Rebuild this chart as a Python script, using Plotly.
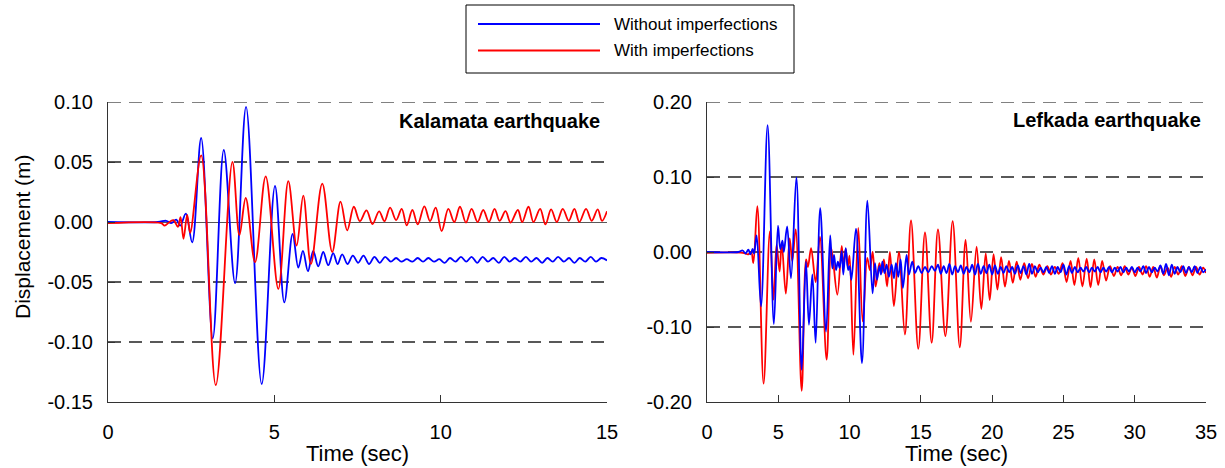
import plotly.graph_objects as go

# ---------------- Kalamata earthquake (left) ----------------
kal_t_without = [0.0, 1.5, 1.75, 1.9, 2.05, 2.17, 2.34, 2.53, 2.80, 3.15, 3.48, 3.82, 4.15, 4.62,
                 5.02, 5.30, 5.55, 5.72, 5.86, 6.01, 6.17, 6.32, 6.47, 6.62, 6.77, 6.90,
                 7.04, 7.20, 7.36, 7.52, 7.68, 7.85, 8.01, 8.17, 8.33, 8.50, 8.66, 8.82, 8.98,
                 9.15, 9.31, 9.47, 9.63, 9.80, 9.96, 10.12, 10.28, 10.45, 10.61, 10.77, 10.93,
                 11.10, 11.26, 11.42, 11.58, 11.75, 11.91, 12.07, 12.23, 12.40, 12.56, 12.72,
                 12.88, 13.05, 13.21, 13.37, 13.53, 13.70, 13.86, 14.02, 14.18, 14.35, 14.51,
                 14.67, 14.83, 15.0]
kal_d_without = [0.0, 0.0, 0.001, -0.001, 0.002, -0.003, 0.007, -0.017, 0.070, -0.097, 0.060, -0.051,
                 0.096, -0.135, 0.030, -0.067, -0.010, -0.038, -0.024, -0.041, -0.024, -0.037,
                 -0.025, -0.036, -0.026, -0.035,
                 -0.027, -0.035, -0.028, -0.034, -0.028, -0.035, -0.029, -0.034, -0.029, -0.033,
                 -0.030, -0.033, -0.031, -0.033, -0.030, -0.033, -0.030, -0.033, -0.031, -0.034,
                 -0.030, -0.033, -0.029, -0.033, -0.029, -0.034, -0.029, -0.033, -0.030, -0.034,
                 -0.029, -0.033, -0.030, -0.033, -0.029, -0.033, -0.030, -0.034, -0.030, -0.033,
                 -0.029, -0.033, -0.030, -0.034, -0.030, -0.033, -0.029, -0.033, -0.030, -0.032]

kal_t_with = [0.0, 1.6, 1.70, 1.85, 1.97, 2.10, 2.18, 2.27, 2.38, 2.47, 2.80, 3.24, 3.74, 3.95,
              4.14, 4.42, 4.74, 5.12, 5.42, 5.67, 5.87, 6.10, 6.44, 6.74, 6.99, 7.19, 7.39,
              7.57, 7.77, 7.95, 8.15, 8.31, 8.48, 8.66, 8.83, 8.98, 9.15, 9.31, 9.51, 9.68,
              9.85, 10.03, 10.23, 10.41, 10.58, 10.76, 10.93, 11.11, 11.28, 11.45, 11.62,
              11.77, 11.95, 12.10, 12.32, 12.45, 12.64, 12.79, 12.99, 13.15, 13.32, 13.49,
              13.67, 13.85, 14.02, 14.17, 14.37, 14.54, 14.72, 14.85, 15.0]
kal_d_with = [-0.001, -0.001, -0.003, 0.000, 0.0015, -0.004, 0.004, -0.014, 0.006, -0.009, 0.0555,
              -0.136, 0.050, -0.011, 0.020, -0.0335, 0.038, -0.0557, 0.034, -0.0196, 0.022,
              -0.035, 0.032, -0.025, 0.017, -0.007, 0.0127, 0.0007, 0.0097, -0.0017, 0.0089,
              0.0007, 0.012, 0.0016, 0.011, -0.0028, 0.010, -0.002, 0.013, 0.0008, 0.012,
              -0.0075, 0.011, 0.0, 0.0127, -0.0005, 0.011, 0.0, 0.010, 0.0, 0.011, 0.001,
              0.009, -0.0005, 0.010, 0.0, 0.0127, 0.0, 0.011, -0.002, 0.0105, 0.0, 0.011,
              0.001, 0.011, 0.0, 0.011, 0.001, 0.0105, 0.001, 0.009]

# ---------------- Lefkada earthquake (right) ----------------
lef_t_without = [0.0, 2.2, 2.5, 2.7, 2.9, 3.05, 3.2, 3.3, 3.48, 3.79, 4.25, 4.69, 4.98, 5.14, 5.29,
                 5.39, 5.62, 5.89, 6.27, 6.64, 6.94, 7.15, 7.39, 7.62, 7.94, 8.35, 8.64, 8.79,
                 8.91, 9.05, 9.18, 9.30, 9.45, 9.56, 9.73, 9.90, 10.00, 10.13, 10.45, 10.87,
                 11.25, 11.61, 11.78, 11.92, 12.09, 12.20, 12.30, 12.45, 12.60, 12.76, 12.95,
                 13.11, 13.25, 13.42, 13.58, 13.74, 14.0, 14.16, 14.40, 14.59, 14.82, 15.05,
                 15.29, 15.52, 15.76, 15.99,
                 16.2, 16.4, 16.6, 16.8, 17.0, 17.2, 17.4, 17.6, 17.8, 18.0, 18.2, 18.4, 18.6,
                 18.8, 19.0, 19.2, 19.4, 19.6, 19.8, 20.0, 20.2, 20.4, 20.6, 20.8, 21.0, 21.2,
                 21.4, 21.6, 21.8, 22.0, 22.2, 22.4, 22.6, 22.8, 23.0, 23.2, 23.4, 23.6, 23.8,
                 24.0, 24.2, 24.4, 24.6, 24.8, 25.0, 25.2, 25.4, 25.6, 25.8, 26.0, 26.2, 26.4,
                 26.6, 26.8, 27.0, 27.2, 27.4, 27.6, 27.8, 28.0, 28.2, 28.4, 28.6, 28.8, 29.0,
                 29.2, 29.4, 29.6, 29.8, 30.0, 30.2, 30.4, 30.6, 30.8, 31.0, 31.2, 31.4, 31.6,
                 31.8, 32.0, 32.2, 32.4, 32.6, 32.8, 33.0, 33.2, 33.4, 33.6, 33.8, 34.0, 34.2,
                 34.4, 34.6, 34.8, 35.0]
lef_d_without = [0.0, 0.0, 0.002, -0.002, 0.003, -0.003, 0.004, -0.002, 0.022, -0.0725, 0.169,
                 -0.096, 0.035, 0.004, 0.015, 0.0, 0.034, -0.035, 0.0995, -0.157, -0.013, -0.097,
                 -0.030, -0.121, 0.0586, -0.106, 0.022, -0.022, -0.004, -0.024, -0.013, -0.021,
                 0.001, -0.030, 0.005, -0.024, -0.019, -0.037, 0.031, -0.148, 0.0686, -0.055,
                 -0.015, -0.037, -0.019, -0.030, -0.013, -0.028, -0.017, -0.033, -0.017, -0.035,
                 -0.015, -0.033, -0.010, -0.048, -0.004, -0.030, -0.013, -0.028, -0.019, -0.028,
                 -0.020, -0.027, -0.019, -0.025,
                 -0.017, -0.029, -0.019, -0.028, -0.016, -0.030, -0.019, -0.027, -0.018, -0.029,
                 -0.020, -0.027, -0.017, -0.030, -0.016, -0.029, -0.019, -0.028, -0.017, -0.030,
                 -0.018, -0.029, -0.020, -0.028, -0.019, -0.027, -0.020, -0.029, -0.018, -0.028,
                 -0.019, -0.030, -0.016, -0.029, -0.019, -0.027, -0.021, -0.027, -0.020, -0.028,
                 -0.019, -0.029, -0.020, -0.027, -0.017, -0.030, -0.019, -0.028, -0.020, -0.027,
                 -0.021, -0.026, -0.020, -0.027, -0.021, -0.026, -0.020, -0.027, -0.021, -0.026,
                 -0.020, -0.027, -0.021, -0.026, -0.020, -0.027, -0.021, -0.026, -0.020, -0.027,
                 -0.021, -0.026, -0.019, -0.028, -0.020, -0.027, -0.021, -0.026, -0.018, -0.029,
                 -0.016, -0.031, -0.017, -0.029, -0.020, -0.027, -0.019, -0.028, -0.020, -0.027,
                 -0.019, -0.028, -0.020, -0.027, -0.023]

lef_t_with = [0.0, 2.5, 2.9, 3.1, 3.25, 3.53, 3.97, 4.41, 4.67, 4.88, 5.09, 5.24, 5.53, 5.80, 5.98,
              6.22, 6.64, 6.95, 7.08, 7.30, 7.62, 7.92, 8.39, 8.72, 9.14, 9.45, 9.58, 9.73, 9.88,
              10.0, 10.27, 10.61, 10.92, 11.24, 11.42, 11.62, 11.83, 12.09, 12.25, 12.41, 12.63,
              12.83, 13.11, 13.46, 13.88, 14.31, 14.82, 15.29, 15.76, 16.20, 16.72, 17.23, 17.73,
              18.14, 18.51, 18.91, 19.24, 19.55, 19.83, 20.10, 20.37, 20.63, 20.90, 21.18, 21.45,
              21.72, 21.98, 22.25, 22.52, 22.79, 23.05, 23.31, 23.59, 23.87, 24.13, 24.40, 24.67,
              24.94, 25.22, 25.50, 25.77, 26.04, 26.33, 26.63, 26.90, 27.16, 27.44, 27.72, 27.99,
              28.27, 28.54, 28.80, 29.05, 29.30, 29.55, 29.80, 30.05, 30.30, 30.55, 30.80, 31.05,
              31.30, 31.55, 31.80, 32.05, 32.30, 32.55, 32.80, 33.05, 33.30, 33.55, 33.80, 34.05,
              34.30, 34.55, 34.80, 35.0]
lef_d_with = [-0.001, -0.001, -0.003, 0.0, -0.0147, 0.061, -0.1756, 0.0275, -0.0636, 0.0097, -0.026,
              0.012, -0.0556, 0.018, -0.012, 0.030, -0.185, -0.010, -0.020, 0.005, -0.040, 0.020,
              -0.1436, 0.005, -0.057, 0.008, -0.020, 0.004, -0.020, -0.005, -0.137, 0.032, -0.0925,
              -0.008, -0.024, 0.0, -0.046, -0.015, -0.028, -0.010, -0.046, 0.0, -0.072, 0.0, -0.110,
              0.042, -0.129, 0.026, -0.121, 0.030, -0.112, 0.041, -0.127, 0.016, -0.093, 0.007,
              -0.076, -0.002, -0.064, -0.003, -0.050, -0.007, -0.046, -0.012, -0.041, -0.013,
              -0.037, -0.015, -0.035, -0.016, -0.033, -0.017, -0.030, -0.019, -0.030, -0.020,
              -0.029, -0.015, -0.040, -0.012, -0.044, -0.008, -0.046, -0.009, -0.047, -0.010,
              -0.044, -0.012, -0.038, -0.019, -0.032, -0.020, -0.031, -0.019, -0.030, -0.021,
              -0.032, -0.020, -0.030, -0.019, -0.033, -0.020, -0.034, -0.019, -0.031, -0.021,
              -0.033, -0.020, -0.030, -0.019, -0.032, -0.020, -0.031, -0.020, -0.030, -0.021,
              -0.028]

series_names = ["Without imperfections", "With imperfections"]
panel_titles = ["Kalamata earthquake", "Lefkada earthquake"]

left_xticks = [0, 5, 10, 15]
left_yticks = [0.10, 0.05, 0.00, -0.05, -0.10, -0.15]
left_yticklabels = ["0.10", "0.05", "0.00", "-0.05", "-0.10", "-0.15"]
right_xticks = [0, 5, 10, 15, 20, 25, 30, 35]
right_yticks = [0.20, 0.10, 0.00, -0.10, -0.20]
right_yticklabels = ["0.20", "0.10", "0.00", "-0.10", "-0.20"]

BLUE = "#0000FF"
RED = "#FF0000"
W, H = 1225, 468
FONT = "Liberation Sans, Arial, sans-serif"
GRID = "#585858"
GRIDDASH = "13px,8px"
LW = 1.8

fig = go.Figure()
fig.add_trace(go.Scatter(x=kal_t_without, y=kal_d_without, mode="lines", name=series_names[0],
                         line=dict(color=BLUE, width=LW, shape="spline", smoothing=1.0),
                         xaxis="x", yaxis="y", showlegend=False))
fig.add_trace(go.Scatter(x=kal_t_with, y=kal_d_with, mode="lines", name=series_names[1],
                         line=dict(color=RED, width=LW, shape="spline", smoothing=1.0),
                         xaxis="x", yaxis="y", showlegend=False))
fig.add_trace(go.Scatter(x=lef_t_with, y=lef_d_with, mode="lines", name=series_names[1],
                         line=dict(color=RED, width=LW, shape="spline", smoothing=1.0),
                         xaxis="x2", yaxis="y2", showlegend=False))
fig.add_trace(go.Scatter(x=lef_t_without, y=lef_d_without, mode="lines", name=series_names[0],
                         line=dict(color=BLUE, width=LW, shape="spline", smoothing=1.0),
                         xaxis="x2", yaxis="y2", showlegend=False))

def px_x(p):
    return p / W

def px_y(p):
    return 1 - p / H

axis_common = dict(showline=True, linecolor="#333333", linewidth=1, ticks="inside", ticklen=7,
                   tickcolor="#333333", tickwidth=1, mirror=False, automargin=False,
                   tickfont=dict(family=FONT, size=20, color="black"))

ydom = [px_y(402), px_y(102)]
fig.update_layout(
    template="none",
    width=W, height=H, autosize=False,
    margin=dict(l=0, r=0, t=0, b=0, pad=0),
    paper_bgcolor="white", plot_bgcolor="white",
    font=dict(family=FONT, color="black"),
    xaxis=dict(domain=[px_x(108), px_x(607)], range=[0, 15], tickvals=left_xticks,
               showgrid=False, zeroline=False, anchor="y", ticklabelstandoff=12, **axis_common),
    yaxis=dict(domain=ydom, range=[-0.15, 0.10], tickvals=left_yticks, ticktext=left_yticklabels,
               showgrid=True, gridcolor=GRID, gridwidth=1.6, griddash=GRIDDASH,
               zeroline=True, zerolinecolor=GRID, zerolinewidth=1.4,
               anchor="x", ticklabelstandoff=10, **axis_common),
    xaxis2=dict(domain=[px_x(707), px_x(1206)], range=[0, 35], tickvals=right_xticks,
                showgrid=False, zeroline=False, anchor="y2", ticklabelstandoff=12, **axis_common),
    yaxis2=dict(domain=ydom, range=[-0.20, 0.20], tickvals=right_yticks, ticktext=right_yticklabels,
                showgrid=True, gridcolor=GRID, gridwidth=1.6, griddash=GRIDDASH,
                zeroline=False, anchor="x2", ticklabelstandoff=10, **axis_common),
    showlegend=False,
)

# top gridlines (plotly omits grid lines lying on the plot edge)
fig.add_shape(type="line", xref="x domain", yref="y", x0=0, x1=1,
              y0=left_yticks[0], y1=left_yticks[0],
              line=dict(color=GRID, width=1.6, dash=GRIDDASH), layer="below")
fig.add_shape(type="line", xref="x2 domain", yref="y2", x0=0, x1=1,
              y0=right_yticks[0], y1=right_yticks[0],
              line=dict(color=GRID, width=1.6, dash=GRIDDASH), layer="below")

annots = [
    dict(text="Displacement (m)", x=px_x(22), y=px_y(237), textangle=-90,
         font=dict(family=FONT, size=21, color="black")),
    dict(text="Time (sec)", x=px_x(357.5), y=px_y(453), font=dict(family=FONT, size=22, color="black")),
    dict(text="Time (sec)", x=px_x(956.5), y=px_y(453), font=dict(family=FONT, size=22, color="black")),
    dict(text="<b>" + panel_titles[0] + "</b>", x=px_x(602), y=px_y(121), xanchor="right",
         font=dict(family=FONT, size=20, color="black")),
    dict(text="<b>" + panel_titles[1] + "</b>", x=px_x(1203), y=px_y(120), xanchor="right",
         font=dict(family=FONT, size=20, color="black")),
    dict(text=series_names[0], x=px_x(612), y=px_y(24), xanchor="left",
         font=dict(family=FONT, size=17, color="black")),
    dict(text=series_names[1], x=px_x(612), y=px_y(50.5), xanchor="left",
         font=dict(family=FONT, size=17, color="black")),
]
for a in annots:
    a.setdefault("xanchor", "center")
    a.setdefault("yanchor", "middle")
    fig.add_annotation(xref="paper", yref="paper", showarrow=False, **a)

# legend frame and line samples
fig.add_shape(type="rect", xref="paper", yref="paper", x0=px_x(466), x1=px_x(794),
              y0=px_y(73), y1=px_y(5), line=dict(color="black", width=1), fillcolor="white",
              layer="below")
fig.add_shape(type="line", xref="paper", yref="paper", x0=px_x(478), x1=px_x(600),
              y0=px_y(24), y1=px_y(24), line=dict(color=BLUE, width=LW))
fig.add_shape(type="line", xref="paper", yref="paper", x0=px_x(478), x1=px_x(600),
              y0=px_y(50.5), y1=px_y(50.5), line=dict(color=RED, width=LW))

fig.write_html("out.html")
